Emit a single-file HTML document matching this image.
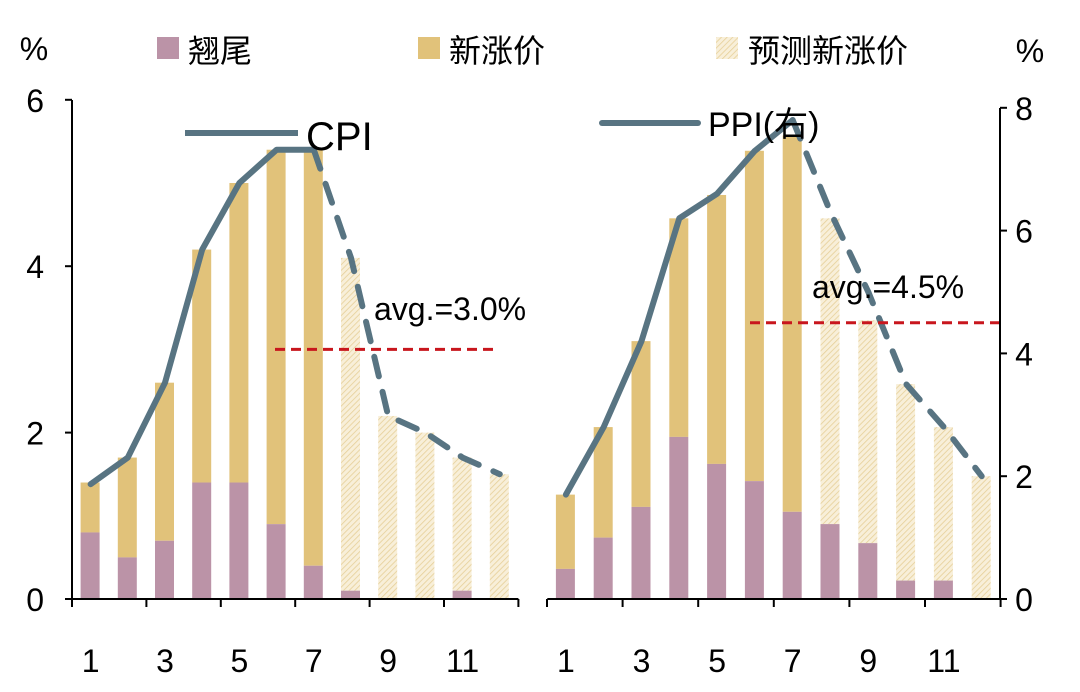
<!DOCTYPE html>
<html><head><meta charset="utf-8"><style>
body{margin:0;background:#fff}
text{font-family:"Liberation Sans","Noto Sans CJK SC",sans-serif}
</style></head><body>
<svg width="1080" height="687" viewBox="0 0 1080 687" xmlns="http://www.w3.org/2000/svg">
<defs>
<pattern id="hatch" width="4" height="4" patternUnits="userSpaceOnUse" patternTransform="rotate(45)">
<rect width="4" height="4" fill="#f8efd9"/>
<line x1="0" y1="0" x2="0" y2="4" stroke="#e6cf98" stroke-width="1.6"/>
</pattern>
</defs>
<g id="g"></g>
</svg>
<script>
const months=[1,2,3,4,5,6,7,8,9,10,11,12];
const tickLabels=["1","3","5","7","9","11"];
const cpiCarry=[0.8,0.5,0.7,1.4,1.4,0.9,0.4,0.1,0,0,0.1,0];
const cpiTotal=[1.4,1.7,2.6,4.2,5.0,5.4,5.4,4.1,2.2,2.0,1.7,1.5];
const cpiLine=[1.38,1.7,2.6,4.2,5.0,5.4,5.4,4.1,2.2,2.0,1.7,1.5];
const ppiCarry=[0.49,1.0,1.5,2.64,2.2,1.92,1.42,1.22,0.91,0.3,0.3,0];
const ppiTotal=[1.7,2.8,4.2,6.2,6.58,7.3,7.55,6.2,4.54,3.5,2.8,2.0];
const ppiLine=[1.7,2.8,4.2,6.2,6.6,7.3,7.8,6.3,5.0,3.5,2.8,2.0];
const forecastStart=7;
const cpiAvg=3.0, ppiAvg=4.5;
const leftTicks=[0,2,4,6], rightTicks=[0,2,4,6,8];

const NS="http://www.w3.org/2000/svg";
const g=document.getElementById('g');
function mk(t,a,p){const e=document.createElementNS(NS,t);for(const k in a)e.setAttribute(k,a[k]);(p||g).appendChild(e);return e;}
const y0=599;
const yL=v=>y0-v*83.2;
const yR=v=>y0-v*61.4;
const xL=i=>72+37.2*(i+0.5);
const xR=i=>547+37.8*(i+0.5);
const C={carry:"#bb93a7",newp:"#e1c27a",line:"#587482"};

function panel(xf,yf,carry,total,line,avg,avgX0,avgX1,name){
  months.forEach((m,i)=>{
    const x=xf(i)-10;
    const fc=i>=forecastStart;
    let r=mk('rect',{x:x,y:yf(total[i]),width:19,height:yf(carry[i])-yf(total[i]),fill:fc?'url(#hatch)':C.newp});
    
    
    r=mk('rect',{x:x,y:yf(carry[i]),width:19,height:y0-yf(carry[i]),fill:C.carry});
    
    
  });
  const pts=line.map((v,i)=>xf(i)+','+yf(v));
  let p=mk('polyline',{points:pts.slice(0,forecastStart).join(' '),fill:'none',stroke:C.line,'stroke-width':6,'stroke-linejoin':'round','stroke-linecap':'round'});
  
  
  p=mk('polyline',{points:pts.slice(forecastStart-1).join(' '),fill:'none',stroke:C.line,'stroke-width':6,'stroke-dasharray':'20 16','stroke-linecap':'round'});
  
  
  const a=mk('line',{x1:avgX0,x2:avgX1,y1:yf(avg),y2:yf(avg),stroke:'#c8161d','stroke-width':3,'stroke-dasharray':'10 6'});
  
  
  // x axis
  const ax=mk('line',{x1:xf(0)-18.6,x2:xf(11)+18.6,y1:y0,y2:y0,stroke:'#000','stroke-width':2});
  
  
  for(let k=0;k<=12;k+=2){const bx=xf(0)-(xf(1)-xf(0))/2+k*(xf(1)-xf(0));
    const t=mk('line',{x1:bx,x2:bx,y1:y0,y2:y0+8,stroke:'#000','stroke-width':2});
    
    }
  tickLabels.forEach((s,j)=>{const t=mk('text',{x:xf(j*2),y:672,'font-size':32,'text-anchor':'middle'});t.textContent=s;
    
    });
}
panel(xL,yL,cpiCarry,cpiTotal,cpiLine,cpiAvg,275,495,'cpi');
panel(xR,yR,ppiCarry,ppiTotal,ppiLine,ppiAvg,750,1000,'ppi');

// left y axis
let e=mk('line',{x1:72,x2:72,y1:100,y2:y0,stroke:'#000','stroke-width':2});


leftTicks.forEach(v=>{let t=mk('line',{x1:65,x2:72,y1:yL(v),y2:yL(v),stroke:'#000','stroke-width':2});
  
  
  t=mk('text',{x:44,y:yL(v)+12,'font-size':32,'text-anchor':'end'});t.textContent=v;
  
  });
e=mk('line',{x1:1000,x2:1000,y1:108,y2:y0,stroke:'#000','stroke-width':2});


rightTicks.forEach(v=>{let t=mk('line',{x1:1000,x2:1007,y1:yR(v),y2:yR(v),stroke:'#000','stroke-width':2});
  
  
  t=mk('text',{x:1024,y:yR(v)+12,'font-size':32,'text-anchor':'middle'});t.textContent=v;
  
  });

function txt(x,y,s,fs,name,anchor){const t=mk('text',{x:x,y:y,'font-size':fs,'text-anchor':anchor||'start'});t.textContent=s;
  
  return t;}
txt(34,60,'%',32,'left-unit','middle');
txt(1030,62,'%',32,'right-unit','middle');
txt(374,320,'avg.=3.0%',32,'cpi-avg-label');
txt(812,298,'avg.=4.5%',32,'ppi-avg-label');
// legend
function sw(x,fill,name){const r=mk('rect',{x:x,y:37,width:22,height:22,fill:fill});
  
  }
sw(157,C.carry,'legend-carry-swatch');txt(188,62,'翘尾',32,'legend-carry');
sw(418,C.newp,'legend-new-swatch');txt(449,62,'新涨价',32,'legend-new');
sw(716,'url(#hatch)','legend-forecast-swatch');txt(748,62,'预测新涨价',32,'legend-forecast');
e=mk('line',{x1:185,x2:298,y1:133,y2:133,stroke:C.line,'stroke-width':6});


txt(306,150,'CPI',40,'legend-cpi');
e=mk('line',{x1:602,x2:698,y1:123,y2:123,stroke:C.line,'stroke-width':6,'stroke-linecap':'round'});


txt(708,136,'PPI(右)',34,'legend-ppi');
</script>
</body></html>
